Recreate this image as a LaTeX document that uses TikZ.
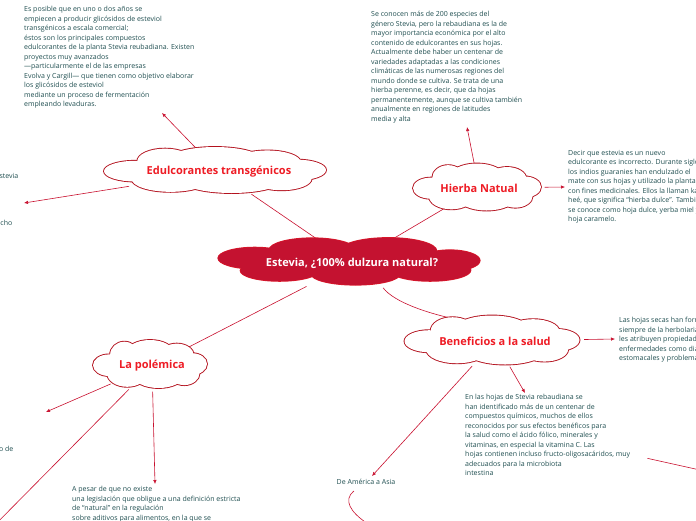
\documentclass[tikz,border=0pt]{standalone}
\usepackage{fontspec}
\setmainfont{Open Sans}
\usetikzlibrary{shapes.geometric}
\usetikzlibrary{arrows.meta}

\definecolor{hilo}{HTML}{C8102E}
\definecolor{borde}{HTML}{B3121E}
\definecolor{rotulo}{HTML}{EE1C25}
\definecolor{centro}{HTML}{C41230}
\definecolor{verdoso}{HTML}{1F4E50}

\pgfdeclarelayer{fondo}
\pgfsetlayers{fondo,main}

% 云朵: 椭圆叠加
\newcommand{\dibujanube}[6]{%
  \begin{scope}[shift={#2}]
    \foreach \cx/\cy/\rx/\ry in #1
      \draw[#6] (\cx*#3,\cy*#4) ellipse [x radius=\rx*#3, y radius=\ry*#4];
    \foreach \cx/\cy/\rx/\ry in #1
      \fill[#5] (\cx*#3,\cy*#4) ellipse [x radius=\rx*#3, y radius=\ry*#4];
  \end{scope}}
\def\lobulos{-0.72/0.05/0.28/0.45, 0.74/0.0/0.26/0.45, -0.45/-0.38/0.25/0.55,
  0.0/-0.45/0.42/0.55, 0.47/-0.35/0.3/0.5, -0.4/0.4/0.35/0.55,
  0.15/0.45/0.45/0.55, 0.6/0.38/0.27/0.5, 0/0/0.8/0.6}
\def\lobuloscentro{-0.72/-0.12/0.28/0.45, -0.28/-0.46/0.33/0.5, 0.3/-0.42/0.37/0.55,
  0.77/-0.02/0.23/0.44, 0.62/0.38/0.31/0.46, 0.05/0.54/0.34/0.46,
  -0.53/0.4/0.3/0.44, 0/0/0.75/0.6}

\begin{document}
\begin{tikzpicture}[x=1pt,y=-1pt,
    tema/.style={ellipse, inner sep=0pt, text=rotulo, font=\bfseries\fontsize{11}{13}\selectfont},
    nota/.style={anchor=north west, align=left, inner sep=0pt, text=verdoso,
        font=\fontsize{7}{9.5}\selectfont},
    rama/.style={draw=hilo, line width=0.6pt, shorten <=1.5pt},
    flecha/.style={rama, -{Latex[length=4pt,width=3.5pt]}}]
    \useasboundingbox (0,0) rectangle (696,520);
    \clip (0,0) rectangle (696,520);

    % 中心主题
    \dibujanube{\lobuloscentro}{(349,261)}{131}{24}{centro}{draw=rotulo!60!centro, line width=1.2pt}
    \node[tema, text=white, minimum width=262pt, minimum height=48pt] (estevia) at (352,263) {Estevia, ¿100\% dulzura natural?};

    % 分支
    \dibujanube{\lobulos}{(215,170)}{111}{23}{white}{draw=borde, line width=1.8pt}
    \dibujanube{\lobulos}{(477,187)}{64}{23.5}{white}{draw=borde, line width=1.8pt}
    \dibujanube{\lobulos}{(492,340)}{87.5}{24.5}{white}{draw=borde, line width=1.8pt}
    \dibujanube{\lobulos}{(150,364)}{57}{24}{white}{draw=borde, line width=1.8pt}
    \node[tema, minimum width=222pt, minimum height=46pt] (edul) at (219,172) {Edulcorantes transgénicos};
    \node[tema, minimum width=128pt, minimum height=47pt] (hierba) at (479,188) {Hierba Natual};
    \node[tema, minimum width=175pt, minimum height=49pt] (benef) at (495,341) {Beneficios a la salud};
    \node[tema, minimum width=114pt, minimum height=48pt] (polem) at (152,366) {La polémica};

    % 说明文字
    \node[nota] (t1) at (24,6) {Es posible que en uno o dos años se\\
        empiecen a producir glicósidos de esteviol\\
        transgénicos a escala comercial;\\
        éstos son los principales compuestos\\
        edulcorantes de la planta Stevia reubadiana. Existen\\
        proyectos muy avanzados\\
        —particularmente el de las empresas\\
        Evolva y Cargill— que tienen como objetivo elaborar\\
        los glicósidos de esteviol\\
        mediante un proceso de fermentación\\
        empleando levaduras.};
    \node[nota] (t2) at (371,11) {Se conocen más de 200 especies del\\
        género Stevia, pero la rebaudiana es la de\\
        mayor importancia económica por el alto\\
        contenido de edulcorantes en sus hojas.\\
        Actualmente debe haber un centenar de\\
        variedades adaptadas a las condiciones\\
        climáticas de las numerosas regiones del\\
        mundo donde se cultiva. Se trata de una\\
        hierba perenne, es decir, que da hojas\\
        permanentemente, aunque se cultiva también\\
        anualmente en regiones de latitudes\\
        media y alta};
    \node[nota] (t3) at (568,150) {Decir que estevia es un nuevo\\
        edulcorante es incorrecto. Durante siglos\\
        los indios guaranies han endulzado el\\
        mate con sus hojas y utilizado la planta\\
        con fines medicinales. Ellos la llaman ka'a\\
        heé, que significa “hierba dulce”. También\\
        se conoce como hoja dulce, yerba miel y\\
        hoja caramelo.};
    \node[nota] (t4) at (619,317) {Las hojas secas han formado parte\\
        siempre de la herbolaria y se\\
        les atribuyen propiedades para\\
        enfermedades como diabetes,\\
        estomacales y problemas de piel};
    \node[nota] (t5) at (465,394) {En las hojas de Stevia rebaudiana se\\
        han identificado más de un centenar de\\
        compuestos químicos, muchos de ellos\\
        reconocidos por sus efectos benéficos para\\
        la salud como el ácido fólico, minerales y\\
        vitaminas, en especial la vitamina C. Las\\
        hojas contienen incluso fructo-oligosacáridos, muy\\
        adecuados para la microbiota\\
        intestina};
    \node[nota] (t6) at (72,486) {A pesar de que no existe\\
        una legislación que obligue a una definición estricta\\
        de “natural” en la regulación\\
        sobre aditivos para alimentos, en la que se};
    \node[nota, anchor=east] (t7) at (18.5,176) {la estevia};
    \node[nota, anchor=east] (t8) at (12.5,223) {mucho};
    \node[nota, anchor=east] (t9) at (13.5,449) {uso de};
    \node[nota, anchor=center] (asia) at (366,482) {De América a Asia};

    % 箭头
    \coordinate (e1) at (162,113);
    \coordinate (e2) at (24,203);
    \coordinate (h1) at (467,127);
    \coordinate (h2) at (565,187);
    \coordinate (b1) at (615,339);
    \coordinate (b2) at (525,393);
    \coordinate (b3) at (372,476);
    \coordinate (p1) at (46,412);
    \coordinate (p2) at (155,484);
    \coordinate (p3) at (-20,540);
    \coordinate (m1) at (646,458);
    \coordinate (m2) at (700,470);
    \coordinate (a1) at (355,490);
    \coordinate (a2) at (368,524);
    \begin{pgfonlayer}{fondo}
    \draw[rama] (estevia) -- (edul);
    \draw[rama] (estevia) -- (hierba);
    \draw[rama] (estevia.-38) .. controls +(12,16) and +(-25,-5) .. (benef.151);
    \draw[rama] (estevia) -- (polem);
    \draw[flecha] (edul) -- (e1);
    \draw[flecha] (edul) -- (e2);
    \draw[flecha] (hierba) -- (h1);
    \draw[flecha] (hierba) -- (h2);
    \draw[flecha] (benef) -- (b1);
    \draw[flecha] (benef) -- (b2);
    \draw[flecha] (benef) -- (b3);
    \draw[flecha] (polem) -- (p1);
    \draw[flecha] (polem) -- (p2);
    \draw[rama] (polem) -- (p3);
    \draw[rama] (m1) -- (m2);
    \draw[rama] (a1) .. controls (343,500) and (350,512) .. (a2);
    \end{pgfonlayer}
\end{tikzpicture}
\end{document}
